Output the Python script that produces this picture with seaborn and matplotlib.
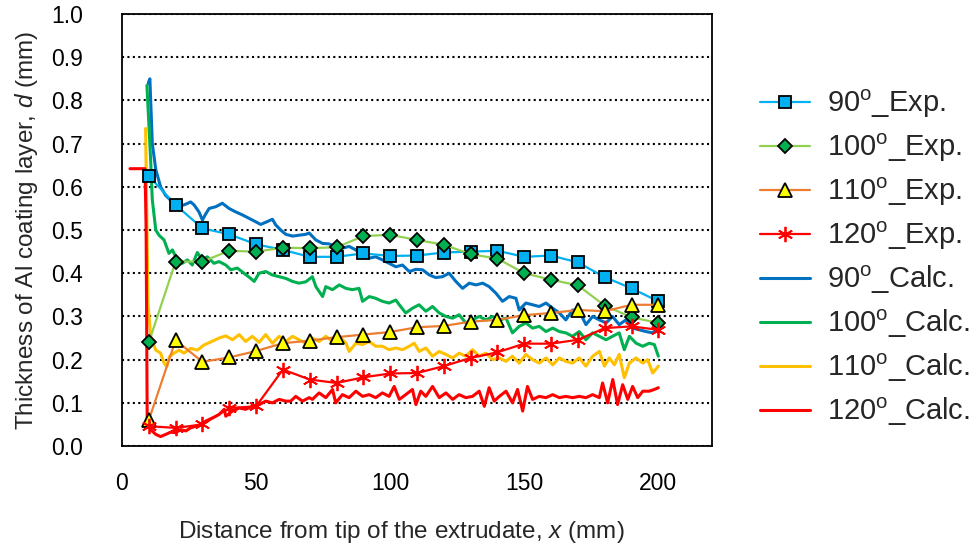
import matplotlib
matplotlib.use("Agg")
import matplotlib.pyplot as plt
import numpy as np
import seaborn as sns

# 实验值 (每 10 mm 一个点)
x_exp = [10, 20, 30, 40, 50, 60, 70, 80, 90, 100, 110, 120, 130, 140, 150, 160, 170, 180, 190, 200]
d90_exp = [0.625, 0.558, 0.504, 0.490, 0.467, 0.454, 0.438, 0.438, 0.446, 0.440, 0.441, 0.448,
           0.450, 0.452, 0.438, 0.441, 0.425, 0.391, 0.365, 0.335]
d100_exp = [0.240, 0.427, 0.427, 0.452, 0.450, 0.459, 0.458, 0.460, 0.486, 0.489, 0.477, 0.466,
            0.444, 0.434, 0.400, 0.385, 0.372, 0.325, 0.298, 0.285]
d110_exp = [0.060, 0.245, 0.195, 0.205, 0.220, 0.238, 0.244, 0.252, 0.258, 0.264, 0.275, 0.278,
            0.288, 0.292, 0.303, 0.308, 0.315, 0.312, 0.327, 0.327]
d120_exp = [0.046, 0.042, 0.050, 0.088, 0.092, 0.177, 0.154, 0.146, 0.159, 0.168, 0.169, 0.185,
            0.204, 0.217, 0.237, 0.237, 0.246, 0.273, 0.277, 0.269]

# 计算值
x90_calc = [9.8, 10.4, 11.3, 12.6, 14.4, 16.3, 17.5, 19.4, 21.3, 23.8, 25.6, 26.9, 28.7, 30.0, 31.0,
            32.5, 35.0, 37.4, 39.9, 42.4, 44.9, 47.4, 49.9, 51.7, 53.6, 56.1, 57.3, 59.2, 61.1, 63.6,
            66.0, 68.5, 69.8, 72.3, 74.8, 77.2, 79.7, 82.2, 84.7, 87.2, 89.7, 92.2, 94.6, 97.1, 99.6,
            102.1, 104.6, 107.1, 109.6, 112.1, 114.6, 117.0, 119.5, 122.0, 124.5, 127.0, 129.5, 132.0,
            134.5, 136.9, 139.4, 141.9, 144.4, 146.9, 148.1, 150.6, 153.1, 155.6, 158.1, 160.6, 163.1,
            165.5, 168.0, 170.5, 173.0, 175.5, 178.0, 180.5, 182.9, 185.4, 187.9, 190.4, 192.9, 195.4,
            197.9, 200.0]
d90_calc = [0.840, 0.850, 0.700, 0.640, 0.600, 0.580, 0.573, 0.560, 0.554, 0.560, 0.565, 0.558, 0.542,
            0.523, 0.535, 0.550, 0.554, 0.562, 0.550, 0.542, 0.535, 0.527, 0.519, 0.513, 0.518, 0.525,
            0.512, 0.500, 0.490, 0.486, 0.488, 0.490, 0.493, 0.477, 0.469, 0.468, 0.462, 0.458, 0.462,
            0.454, 0.438, 0.435, 0.438, 0.431, 0.423, 0.415, 0.419, 0.404, 0.409, 0.408, 0.396, 0.390,
            0.392, 0.400, 0.381, 0.365, 0.377, 0.373, 0.377, 0.369, 0.354, 0.335, 0.346, 0.342, 0.315,
            0.331, 0.327, 0.323, 0.331, 0.319, 0.308, 0.292, 0.315, 0.312, 0.281, 0.300, 0.292, 0.285,
            0.300, 0.281, 0.292, 0.273, 0.269, 0.265, 0.262, 0.273]

x100_calc = [9.3, 10.7, 11.3, 12.6, 13.8, 15.7, 17.5, 18.8, 20.6, 22.5, 24.4, 26.2, 28.1, 30.0, 31.8,
             34.3, 36.2, 38.7, 40.6, 43.0, 45.5, 48.0, 49.3, 51.1, 53.6, 56.1, 58.6, 61.1, 63.6, 66.0,
             68.5, 71.0, 72.3, 74.8, 76.0, 78.5, 81.0, 83.5, 85.9, 88.4, 89.7, 92.2, 94.6, 97.1, 99.6,
             102.1, 103.4, 105.8, 108.3, 110.8, 113.3, 115.8, 118.3, 120.8, 123.3, 125.7, 128.2, 130.7,
             133.2, 135.7, 138.2, 140.7, 143.2, 145.6, 148.1, 150.6, 153.1, 155.6, 158.1, 160.6, 163.1,
             165.5, 168.0, 170.5, 173.0, 175.5, 178.0, 180.5, 182.9, 185.4, 187.3, 189.2, 191.7, 194.2,
             196.6, 198.5, 200.0]
d100_calc = [0.835, 0.660, 0.570, 0.500, 0.488, 0.477, 0.446, 0.454, 0.431, 0.423, 0.431, 0.419, 0.448,
             0.431, 0.438, 0.423, 0.427, 0.419, 0.408, 0.412, 0.400, 0.388, 0.381, 0.400, 0.404, 0.396,
             0.392, 0.388, 0.381, 0.377, 0.380, 0.392, 0.369, 0.346, 0.369, 0.362, 0.373, 0.365, 0.362,
             0.365, 0.335, 0.346, 0.342, 0.335, 0.331, 0.338, 0.327, 0.308, 0.319, 0.327, 0.312, 0.323,
             0.308, 0.300, 0.296, 0.304, 0.285, 0.292, 0.300, 0.292, 0.300, 0.292, 0.296, 0.262, 0.277,
             0.285, 0.273, 0.277, 0.265, 0.273, 0.265, 0.262, 0.254, 0.265, 0.246, 0.262, 0.254, 0.246,
             0.254, 0.262, 0.223, 0.254, 0.238, 0.231, 0.238, 0.235, 0.208]

x110_calc = [8.8, 9.2, 9.7, 10.7, 12.6, 14.4, 15.7, 16.7, 17.7, 19.4, 21.3, 23.1, 25.6, 28.1, 30.6,
             33.1, 36.2, 38.7, 41.2, 43.7, 46.1, 48.6, 51.1, 53.6, 56.1, 58.6, 61.1, 63.6, 66.0, 68.5,
             71.0, 73.5, 76.0, 78.5, 81.0, 83.5, 84.7, 87.2, 89.7, 92.2, 94.6, 97.1, 99.6, 102.1, 104.6,
             107.1, 109.0, 110.8, 113.3, 115.8, 118.3, 120.8, 123.3, 125.7, 128.2, 130.7, 133.2, 135.7,
             138.2, 140.7, 143.2, 145.6, 148.1, 150.6, 153.1, 155.6, 158.1, 160.6, 163.1, 165.5, 168.0,
             170.5, 173.0, 175.5, 178.0, 179.9, 181.7, 183.6, 185.4, 187.3, 189.2, 191.7, 194.2, 196.0,
             197.9, 200.0]
d110_calc = [0.735, 0.560, 0.330, 0.253, 0.222, 0.215, 0.192, 0.184, 0.207, 0.215, 0.222, 0.215, 0.226,
             0.222, 0.234, 0.241, 0.250, 0.255, 0.246, 0.258, 0.242, 0.254, 0.240, 0.258, 0.238, 0.254,
             0.242, 0.254, 0.246, 0.238, 0.250, 0.242, 0.254, 0.242, 0.254, 0.238, 0.219, 0.238, 0.235,
             0.242, 0.231, 0.231, 0.223, 0.227, 0.223, 0.231, 0.238, 0.219, 0.227, 0.208, 0.219, 0.212,
             0.204, 0.215, 0.208, 0.223, 0.208, 0.215, 0.200, 0.204, 0.196, 0.208, 0.192, 0.212, 0.200,
             0.192, 0.204, 0.188, 0.204, 0.196, 0.192, 0.204, 0.185, 0.208, 0.219, 0.185, 0.204, 0.188,
             0.212, 0.158, 0.192, 0.204, 0.192, 0.200, 0.169, 0.185]

x120_calc = [3.0, 8.6, 9.0, 9.4, 10.7, 12.6, 14.4, 16.3, 18.1, 20.0, 21.9, 23.8, 25.6, 27.5, 29.4, 31.3,
             33.7, 36.2, 38.1, 38.7, 41.2, 43.7, 46.1, 48.6, 51.1, 53.6, 56.1, 58.6, 61.1, 62.9, 64.8,
             67.3, 69.8, 71.0, 73.5, 76.0, 78.5, 79.7, 82.2, 84.7, 87.2, 89.7, 92.2, 94.6, 97.1, 99.6,
             101.5, 103.4, 105.8, 108.3, 109.6, 111.4, 113.3, 115.8, 118.3, 120.8, 123.3, 125.7, 128.2,
             130.7, 133.2, 135.1, 136.9, 138.8, 140.7, 143.2, 145.6, 147.5, 149.4, 151.2, 153.1, 155.6,
             158.1, 160.6, 163.1, 165.5, 168.0, 170.5, 173.0, 175.5, 178.0, 179.2, 181.1, 183.0, 184.8,
             186.7, 188.6, 190.4, 192.3, 194.2, 196.6, 198.5, 200.0]
d120_calc = [0.642, 0.642, 0.500, 0.060, 0.038, 0.027, 0.022, 0.027, 0.032, 0.031, 0.038, 0.035, 0.042,
             0.046, 0.050, 0.058, 0.065, 0.073, 0.085, 0.069, 0.081, 0.088, 0.085, 0.092, 0.096, 0.104,
             0.100, 0.108, 0.104, 0.104, 0.115, 0.104, 0.112, 0.108, 0.123, 0.112, 0.131, 0.100, 0.119,
             0.112, 0.127, 0.115, 0.119, 0.112, 0.123, 0.115, 0.138, 0.108, 0.119, 0.131, 0.096, 0.127,
             0.115, 0.138, 0.112, 0.123, 0.108, 0.119, 0.112, 0.115, 0.127, 0.092, 0.135, 0.104, 0.115,
             0.127, 0.100, 0.131, 0.081, 0.138, 0.108, 0.115, 0.112, 0.119, 0.112, 0.115, 0.112, 0.115,
             0.112, 0.119, 0.112, 0.146, 0.100, 0.154, 0.096, 0.142, 0.108, 0.138, 0.112, 0.127, 0.127,
             0.131, 0.135]

x_ticks = [0, 50, 100, 150, 200]
y_ticks = [0.0, 0.1, 0.2, 0.3, 0.4, 0.5, 0.6, 0.7, 0.8, 0.9, 1.0]

sns.set_style("white")
plt.rcParams['font.family'] = ['Liberation Sans', 'DejaVu Sans']
plt.rcParams['mathtext.fontset'] = 'custom'
plt.rcParams['mathtext.rm'] = 'Liberation Sans'
plt.rcParams['mathtext.it'] = 'Liberation Sans:italic'

fig = plt.figure(figsize=(9.72, 5.5), dpi=100)
ax = fig.add_axes([0.1255, 0.189, 0.607, 0.7855])

deg = r"$^{\mathrm{o}}$"

# 计算曲线
calc = [(x90_calc, d90_calc, '#0070C0', '90'), (x100_calc, d100_calc, '#00B050', '100'),
        (x110_calc, d110_calc, '#FFC000', '110'), (x120_calc, d120_calc, '#FF0000', '120')]
# 实验曲线
exp = [(d90_exp, '#00B0F0', 's', '#00B0F0', 8.5, '90'),
       (d100_exp, '#92D050', 'D', '#00B050', 7.0, '100'),
       (d110_exp, '#ED7D31', '^', '#FFFF00', 10.0, '110'),
       (d120_exp, '#FF0000', (6, 2, 0), '#FF0000', 11.0, '120')]

for y, lc, mk, fc, ms, ang in exp:
    ec = '#FF0000' if ang == '120' else 'black'
    sns.lineplot(x=x_exp, y=y, ax=ax, color=lc, lw=1.6, marker=mk, markersize=ms,
                 markerfacecolor=fc, markeredgecolor=ec, markeredgewidth=1.3,
                 label=f"{ang}{deg}_Exp.", sort=False, estimator=None, zorder=4)

for xs, ys, c, ang in calc:
    sns.lineplot(x=xs, y=ys, ax=ax, color=c, lw=2.2, label=f"{ang}{deg}_Calc.",
                 sort=False, estimator=None, zorder=3)

ax.set_xlim(0, 220)
ax.set_ylim(0, 1.0)
ax.set_xticks(x_ticks)
ax.set_yticks(y_ticks)
ax.set_yticklabels([f"{v:.1f}" for v in y_ticks])
ax.yaxis.grid(True, color='black', linestyle=(0, (1, 1.6)), linewidth=1.5)
ax.xaxis.grid(False)
ax.set_axisbelow(True)
for s in ax.spines.values():
    s.set_color('black')
    s.set_linewidth(1.3)
ax.tick_params(axis='both', direction='in', length=6, width=1.2, colors='black', labelsize=16.5)
ax.tick_params(axis='y', pad=28)
ax.tick_params(axis='x', pad=19)

ax.set_xlabel(r"Distance from tip of the extrudate, $x$ (mm)", fontsize=17.5)
ax.xaxis.set_label_coords(0.473, -0.168)
ax.set_ylabel(r"Thickness of Al coating layer, $d$ (mm)", fontsize=17.5, labelpad=8)

ax.legend(loc='center left', bbox_to_anchor=(0.782, 0.531), bbox_transform=fig.transFigure,
          frameon=False, fontsize=21, handlelength=1.7, handletextpad=0.6, labelspacing=0.4,
          borderpad=0, borderaxespad=0)

fig.savefig("out.png", dpi=100, facecolor='white')
